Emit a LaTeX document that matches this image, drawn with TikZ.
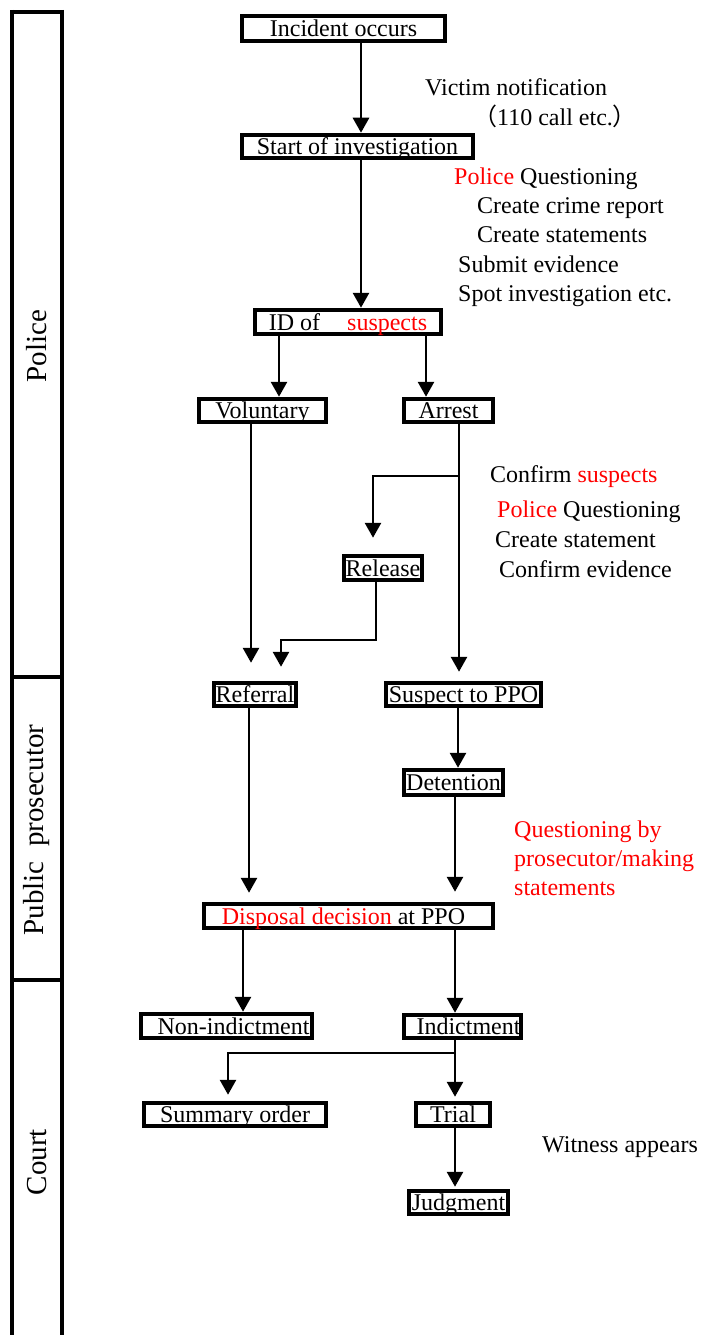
\documentclass[tikz,border=0pt]{standalone}
\usepackage{fontspec}
\setmainfont{Liberation Serif}
\newfontfamily\cjkfont{Noto Sans CJK JP}
\usetikzlibrary{arrows.meta}
\begin{document}
\begin{tikzpicture}[x=1pt,y=-1pt,
  box/.style={draw, line width=4.5pt, inner sep=0pt, text height=16.5pt, text depth=0pt, font=\fontsize{24}{29}\selectfont},
  txt/.style={anchor=base west, inner sep=0pt, font=\fontsize{24}{29}\selectfont},
  lane/.style={rotate=90, inner sep=0pt, font=\fontsize{29}{34}\selectfont},
  arr/.style={line width=2.8pt, -{Triangle[width=16pt,length=15pt]}},
  side/.style={line width=4.5pt}]
\useasboundingbox (0,0) rectangle (701,1335);

% swimlane frame
\draw[side] (12,10) -- (12,1335);
\draw[side] (62,10) -- (62,1335);
\draw[side] (10,12) -- (64,12);
\draw[side] (10,677) -- (64,677);
\draw[side] (10,980) -- (64,980);
\node[lane] (lp) at (37,346) {Police};
\node[lane] (lpp) at (37,830) {Public\ \ prosecutor};
\node[lane] (lc) at (37,1162) {Court};

% boxes
\node[box, minimum width=203pt, minimum height=25pt] (inc) at (343.5,28.5) {Incident occurs};
\node[box, minimum width=231pt, minimum height=23pt] (start) at (357.5,146.5) {Start of investigation};
\node[box, minimum width=186pt, minimum height=24pt] (id) at (348,322) {ID of\hspace{27pt}\textcolor{red}{suspects}};
\node[box, minimum width=127pt, minimum height=23pt] (vol) at (262.5,410.5) {Voluntary};
\node[box, minimum width=89pt, minimum height=23pt] (arr) at (448.5,410.5) {Arrest};
\node[box, minimum width=78pt, minimum height=24pt] (rel) at (383,568) {Release};
\node[box, minimum width=82pt, minimum height=23pt] (ref) at (255,694.5) {Referral};
\node[box, minimum width=155pt, minimum height=23pt] (sus) at (463.5,694.5) {Suspect to PPO};
\node[box, minimum width=99pt, minimum height=25pt] (det) at (453.5,782.5) {Detention};
\node[box, minimum width=289pt, minimum height=24pt] (disp) at (348.5,916) {\textcolor{red}{Disposal decision} at PPO\hspace*{10pt}};
\node[box, minimum width=171pt, minimum height=24pt] (non) at (226.5,1026) {\hspace*{14pt}Non-indictment};
\node[box, minimum width=117pt, minimum height=23pt] (ind) at (462.5,1026.5) {\hspace*{12pt}Indictment};
\node[box, minimum width=182pt, minimum height=23pt] (sum) at (235,1114.5) {Summary order};
\node[box, minimum width=74pt, minimum height=23pt] (trial) at (453,1114.5) {Trial};
\node[box, minimum width=99pt, minimum height=23pt] (judg) at (458.5,1202.5) {Judgment};

% column coordinates
\coordinate (x361) at (361,0);
\coordinate (x279) at (279,0);
\coordinate (x426) at (426,0);
\coordinate (x251) at (251,0);
\coordinate (x459) at (459,0);
\coordinate (x373) at (373,0);
\coordinate (x376) at (376,0);
\coordinate (x281) at (281,0);
\coordinate (x458) at (458,0);
\coordinate (x249) at (249,0);
\coordinate (x455) at (455,0);
\coordinate (x243) at (243,0);
\coordinate (x228) at (228,0);
\coordinate (b1) at (459,476);
\coordinate (k1) at (281,640);
\coordinate (b2) at (455,1053);

% connectors
\draw[arr] (inc.south -| x361) -- (start.north -| x361);
\draw[arr] (start.south -| x361) -- (id.north -| x361);
\draw[arr] (id.south -| x279) -- (vol.north -| x279);
\draw[arr] (id.south -| x426) -- (arr.north -| x426);
\draw[arr, shorten >=18pt] (vol.south -| x251) -- (ref.north -| x251);
\draw[arr, shorten >=9pt] (arr.south -| x459) -- (sus.north -| x459);
\draw[arr, shorten >=16pt] (b1) -| (rel.north -| x373);
\draw[arr, shorten >=14pt] (rel.south -| x376) |- (k1) -- (ref.north -| x281);
\draw[arr] (sus.south -| x458) -- (det.north -| x458);
\draw[arr, shorten >=9pt] (ref.south -| x249) -- (disp.north -| x249);
\draw[arr, shorten >=10pt] (det.south -| x455) -- (disp.north -| x455);
\draw[arr] (disp.south -| x243) -- (non.north -| x243);
\draw[arr] (disp.south -| x455) -- (ind.north -| x455);
\draw[arr, shorten >=4pt] (ind.south -| x455) -- (trial.north -| x455);
\draw[arr, shorten >=6pt] (b2) -| (sum.north -| x228);
\draw[arr, shorten >=2pt] (trial.south -| x455) -- (judg.north -| x455);

% annotations
\node[txt] (t1) at (425,96) {Victim notification};
\node[txt] (t2) at (473,125) {{\cjkfont （}110 call etc.{\cjkfont ）}};
\node[txt] (t3) at (454,184) {\textcolor{red}{Police} Questioning};
\node[txt] (t4) at (477,213) {Create crime report};
\node[txt] (t5) at (477,242) {Create statements};
\node[txt] (t6) at (458,272) {Submit evidence};
\node[txt] (t7) at (458,301) {Spot investigation etc.};
\node[txt] (t8) at (490,482) {Confirm \textcolor{red}{suspects}};
\node[txt] (t9) at (497,517) {\textcolor{red}{Police} Questioning};
\node[txt] (t10) at (495,547) {Create statement};
\node[txt] (t11) at (499,577) {Confirm evidence};
\node[txt, red] (t12) at (514,837) {Questioning by};
\node[txt, red] (t13) at (514,866) {prosecutor/making};
\node[txt, red] (t14) at (514,895) {statements};
\node[txt] (t15) at (542,1152) {Witness appears};
\end{tikzpicture}
\end{document}
